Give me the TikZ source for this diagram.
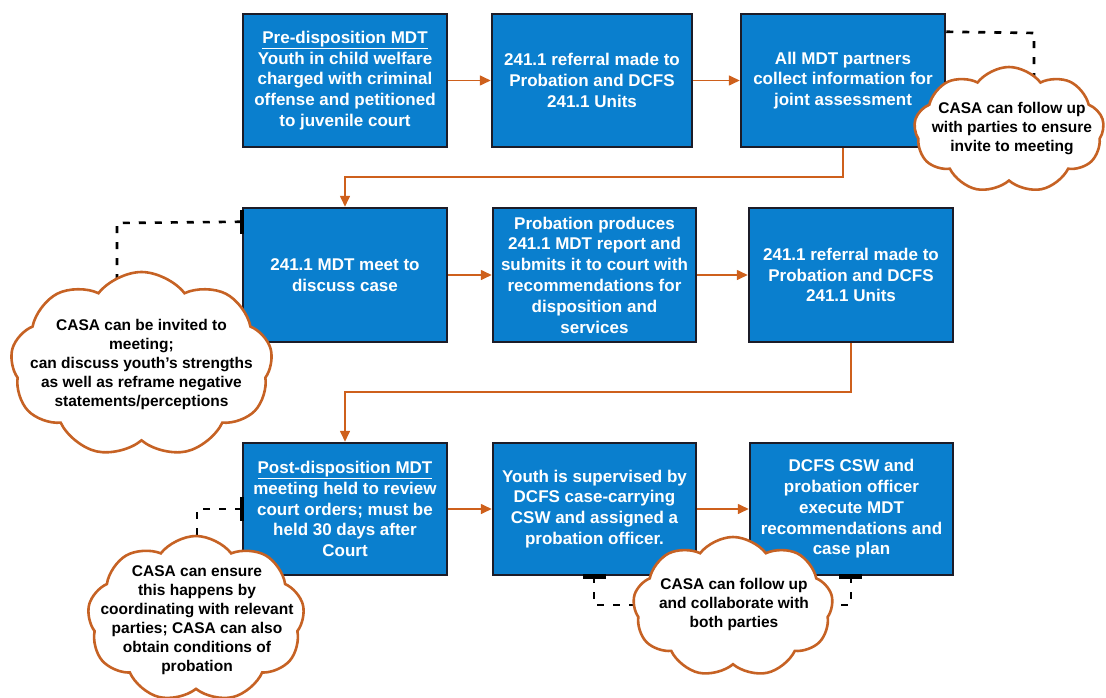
\documentclass[tikz,border=0pt]{standalone}
\usepackage{fontspec}
\setmainfont{Liberation Sans}
\usetikzlibrary{shapes.symbols,arrows.meta,calc}
\definecolor{boxblue}{RGB}{10,127,206}
\definecolor{boxedge}{RGB}{28,28,40}
\definecolor{flow}{RGB}{206,96,28}
\definecolor{cloudedge}{RGB}{198,98,36}
\tikzset{
  stepbox/.style={rectangle, draw=boxedge, line width=2.5pt, fill=boxblue, text=white,
    align=center, inner sep=2pt, font=\fontsize{17}{20.8}\selectfont\bfseries},
  cloudbox/.style={cloud, cloud puffs=9, cloud puff arc=105, cloud ignores aspect, draw=cloudedge, line width=2.6pt,
    fill=white, inner sep=0pt},
  cloudtext/.style={text=black, align=center, inner sep=0pt, font=\fontsize{15.5}{19}\selectfont\bfseries},
  arr/.style={draw=flow, line width=1.6pt, -{Triangle[length=11pt,width=10pt]}},
  dashline/.style={draw=black, line width=2.6pt, dash pattern=on 7pt off 9pt},
  tick/.style={draw=black, line width=4.5pt}
}
\begin{document}
\begin{tikzpicture}[x=1pt,y=-1pt]
\useasboundingbox (0,0) rectangle (1106,698);
% boxes
\node[stepbox, minimum width=204pt, minimum height=133pt] (box1) at (345,80.5)
  {\underline{Pre-disposition MDT}\\Youth in child welfare\\charged with criminal\\offense and petitioned\\to juvenile court};
\node[stepbox, minimum width=200pt, minimum height=133pt] (box2) at (592,80.5)
  {241.1 referral made to\\Probation and DCFS\\241.1 Units};
\node[stepbox, minimum width=204pt, minimum height=133pt] (box3) at (843,80.5)
  {All MDT partners\\collect information for\\joint assessment};
\node[stepbox, minimum width=204pt, minimum height=134pt] (box4) at (345,275)
  {241.1 MDT meet to\\discuss case};
\node[stepbox, minimum width=203pt, minimum height=134pt] (box5) at (594.5,275)
  {Probation produces\\241.1 MDT report and\\submits it to court with\\recommendations for\\disposition and\\services};
\node[stepbox, minimum width=204pt, minimum height=134pt] (box6) at (851,275)
  {241.1 referral made to\\Probation and DCFS\\241.1 Units};
\node[stepbox, minimum width=204pt, minimum height=132pt] (box7) at (345,509)
  {\underline{Post-disposition MDT}\\meeting held to review\\court orders; must be\\held 30 days after\\Court};
\node[stepbox, minimum width=203pt, minimum height=132pt] (box8) at (594.5,509)
  {Youth is supervised by\\DCFS case-carrying\\CSW and assigned a\\probation officer.};
\node[stepbox, minimum width=203pt, minimum height=132pt] (box9) at (851.5,509)
  {DCFS CSW and\\probation officer\\execute MDT\\recommendations and\\case plan};
% flow arrows
\draw[arr] (box1) -- (box2);
\draw[arr] (box2) -- (box3);
\coordinate (b34) at (843,177);
\draw[arr] (box3.south) -- (b34) -| (box4.north);
\draw[arr] (box4) -- (box5);
\draw[arr] (box5) -- (box6);
\coordinate (b67) at (851,392);
\draw[arr] (box6.south) -- (b67) -| (box7.north);
\draw[arr] (box7) -- (box8);
\draw[arr] (box8) -- (box9);
% dashed links
\coordinate (c1a) at (1034,33);
\draw[dashline] ([yshift=-19pt]box3.north east) -- (c1a) -- (1034,130);
\coordinate (c2a) at (117,223);
\draw[dashline] ([yshift=-15pt]box4.north west) -- (c2a) -- (117,340);
\draw[tick] ([yshift=-3pt]box4.north west) -- ([yshift=-27pt]box4.north west);
\coordinate (c3a) at (197,509);
\draw[dashline] (box7.west) -- (c3a) -- (197,600);
\draw[tick] ([yshift=12pt]box7.west) -- ([yshift=-12pt]box7.west);
\coordinate (c4a) at (594,605);
\coordinate (c4b) at (851,605);
\draw[dashline] (box8.south -| c4a) -- (c4a) -- (733,605);
\draw[dashline] (box9.south -| c4b) -- (c4b) -- (733,605);
\draw[tick] ([xshift=-11pt]box8.south -| c4a) -- ([xshift=12pt]box8.south -| c4a);
\draw[tick] ([xshift=-12pt]box9.south -| c4b) -- ([xshift=11pt]box9.south -| c4b);
% clouds
\node[cloudbox, minimum width=190pt, minimum height=126pt] (cloud1) at (1009,130) {};
\node[cloudtext] (cloud1txt) at (1012,129)
  {CASA can follow up\\with parties to ensure\\invite to meeting};
\node[cloudbox, minimum width=262pt, minimum height=185pt] (cloud2) at (141.5,364.5) {};
\node[cloudtext] (cloud2txt) at (cloud2.center)
  {CASA can be invited to\\meeting;\\can discuss youth's strengths\\as well as reframe negative\\statements/perceptions};
\node[cloudbox, minimum width=217pt, minimum height=166pt] (cloud3) at (196,619) {};
\node[cloudtext] (cloud3txt) at (197,620)
  {CASA can ensure\\this happens by\\coordinating with relevant\\parties; CASA can also\\obtain conditions of\\probation};
\node[cloudbox, minimum width=200pt, minimum height=140pt] (cloud4) at (733,607) {};
\node[cloudtext] (cloud4txt) at (734,604)
  {CASA can follow up\\and collaborate with\\both parties};
\end{tikzpicture}
\end{document}
